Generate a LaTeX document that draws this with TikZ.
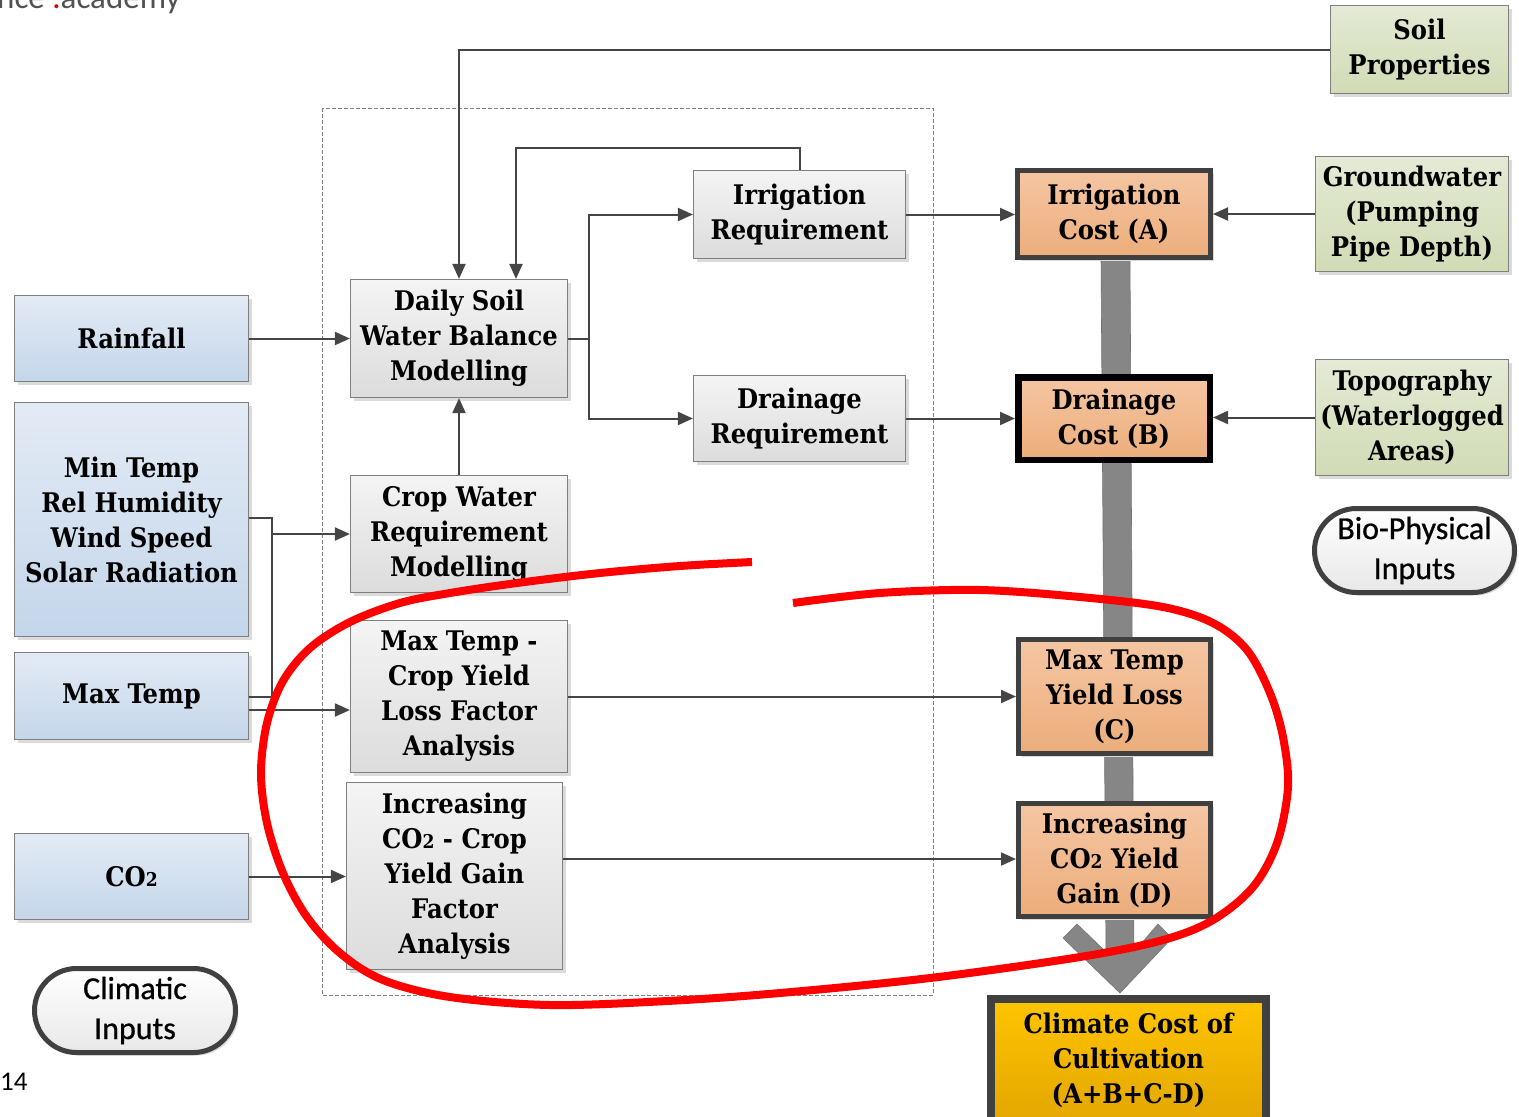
\documentclass[tikz,border=0pt]{standalone}
\usepackage{fontspec}
\newfontfamily\pillfont{Carlito}[FakeBold=0.8]
\newfontfamily\plainfont{Carlito}
\newfontfamily\boxfont{DejaVu Serif Condensed}[BoldFont={DejaVu Serif Condensed Bold}]
\usetikzlibrary{arrows.meta,calc,shadows}

\definecolor{lineC}{HTML}{454545}
\definecolor{frameC}{HTML}{7F7F7F}
\definecolor{blueTop}{HTML}{E3EBF5}
\definecolor{blueBot}{HTML}{C4D6EA}
\definecolor{grayTop}{HTML}{F4F4F4}
\definecolor{grayBot}{HTML}{DCDCDC}
\definecolor{greenTop}{HTML}{E4EAD5}
\definecolor{greenBot}{HTML}{D1DBB5}
\definecolor{orTop}{HTML}{F5C6A3}
\definecolor{orBot}{HTML}{ECAD7B}
\definecolor{goldTop}{HTML}{FFC400}
\definecolor{goldBot}{HTML}{E3A700}
\definecolor{darkB}{HTML}{404040}
\definecolor{shaftC}{HTML}{868686}

\newcommand\cotwo{CO{\fontsize{19}{19}\selectfont 2}}

\tikzset{
  softshadow/.style={drop shadow={shadow xshift=3pt,shadow yshift=-3pt,fill=black!14,opacity=1}},
  basebox/.style={rectangle, align=center, inner sep=1pt, softshadow,
    font=\boxfont\bfseries\fontsize{27}{35}\selectfont},
  inbox/.style={basebox, draw=frameC, line width=1.2pt, top color=blueTop, bottom color=blueBot},
  procbox/.style={basebox, draw=frameC, line width=1.2pt, top color=grayTop, bottom color=grayBot},
  bpbox/.style={basebox, draw=frameC, line width=1.2pt, top color=greenTop, bottom color=greenBot},
  costbox/.style={basebox, draw=darkB, line width=5pt, top color=orTop, bottom color=orBot},
  pill/.style={rectangle, rounded corners=42pt, draw=darkB, line width=5pt, softshadow,
    top color=white, bottom color=black!9, align=center, inner sep=1pt,
    font=\pillfont\fontsize{32}{40}\selectfont},
  conn/.style={draw=lineC, line width=2pt},
  arr/.style={conn, -{Triangle[length=15pt,width=13pt]}},
}

\begin{document}
\begin{tikzpicture}[x=1pt,y=-1pt]
\useasboundingbox (0,0) rectangle (1519,1117);

% header and page number fragments
\node[anchor=base west, inner sep=0, text=black!68, font=\plainfont\fontsize{33}{33}\selectfont]
  (wm) at (-3,8) {nce \textcolor{red!85!black}{.}academy};
\node[anchor=base west, inner sep=0, font=\plainfont\fontsize{27}{27}\selectfont]
  (pg) at (0,1090) {14};

% dashed frame around the modelling steps
\draw[frameC, line width=1pt, dash pattern=on 4pt off 2pt] (322,108) rectangle (933,995);

% climatic inputs
\node[inbox, minimum width=234, minimum height=86] (rain) at (131.5,338.5) {Rainfall};
\node[inbox, minimum width=234, minimum height=234] (minT) at (131.5,519.5)
  {Min Temp\\Rel Humidity\\Wind Speed\\Solar Radiation};
\node[inbox, minimum width=234, minimum height=87] (maxT) at (131.5,696) {Max Temp};
\node[inbox, minimum width=234, minimum height=86] (co2) at (131.5,876.5) {\cotwo};
\node[pill, minimum width=201, minimum height=84] (clim) at (135,1010.5) {Climatic\\Inputs};

% modelling steps
\node[procbox, minimum width=217, minimum height=118] (dsw) at (459,338.5)
  {Daily Soil\\Water Balance\\Modelling};
\node[procbox, minimum width=217, minimum height=117] (cwr) at (459,534)
  {Crop Water\\Requirement\\Modelling};
\node[procbox, minimum width=217, minimum height=152] (mtc) at (459,696.5)
  {Max Temp -\\Crop Yield\\Loss Factor\\Analysis};
\node[procbox, minimum width=216, minimum height=187] (ico) at (454.5,876)
  {Increasing\\\cotwo{} - Crop\\Yield Gain\\Factor\\Analysis};
\node[procbox, minimum width=212, minimum height=88] (irq) at (799.5,214.5)
  {Irrigation\\Requirement};
\node[procbox, minimum width=212, minimum height=86] (drq) at (799.5,418.5)
  {Drainage\\Requirement};

% bio-physical inputs
\node[bpbox, minimum width=178, minimum height=88] (soil) at (1419.5,49.5) {Soil\\Properties};
\node[bpbox, minimum width=193, minimum height=115] (gw) at (1412,214)
  {Groundwater\\(Pumping\\Pipe Depth)};
\node[bpbox, minimum width=193, minimum height=116] (topo) at (1412,417.5)
  {Topography\\(Waterlogged\\Areas)};
\node[pill, minimum width=200, minimum height=84] (bio) at (1414.5,550.5) {Bio-Physical\\Inputs};

% anchors for the summation arrow
\coordinate (tip) at (1120,993);
\coordinate (shaftTop) at (1114,258);

% thick summation arrow behind the cost boxes
\fill[shaftC, draw=black!55, line width=0.6pt]
  ($(shaftTop)+(-13,0)$) -- ($(shaftTop)+(16,0)$) -- ($(tip)+(14,-41)$)
  -- ($(tip)+(38,-69)$) -- ($(tip)+(52,-55)$) -- (tip) -- ($(tip)+(-57,-55)$)
  -- ($(tip)+(-43,-69)$) -- ($(tip)+(-14,-41)$) -- cycle;

% cost components and total
\node[costbox, minimum width=193, minimum height=87] (icost) at (1114,214) {Irrigation\\Cost (A)};
\node[costbox, draw=black, line width=6.5pt, minimum width=191.5, minimum height=82.5] (dcost) at (1114,418.5)
  {Drainage\\Cost (B)};
\node[costbox, minimum width=192, minimum height=114] (ccost) at (1114.5,696.5)
  {Max Temp\\Yield Loss\\(C)};
\node[costbox, minimum width=192, minimum height=113] (dgain) at (1114.5,860)
  {Increasing\\\cotwo{} Yield\\Gain (D)};
\node[costbox, line width=8pt, minimum width=275, minimum height=122,
  top color=goldTop, bottom color=goldBot] (climate) at (1128.5,1060)
  {Climate Cost of\\Cultivation\\(A+B+C-D)};

% connectors
\draw[arr] (soil.west) -| (dsw.north);
\draw[arr] (irq.north) -- ++(0,-22) -| ($(dsw.north)+(57,0)$);
\draw[arr] (rain.east) -- (dsw.west);
\draw[arr] (cwr.north) -- (dsw.south);
\draw[conn] (dsw.east) -- ++(21,0) coordinate (split);
\draw[arr] (split) |- (irq.west);
\draw[arr] (split) |- (drq.west);
\draw[arr] (irq.east) -- (irq.east -| icost.west);
\draw[arr] (drq.east) -- (drq.east -| dcost.west);
\draw[arr] (gw.west) -- (gw.west -| icost.east);
\draw[arr] (topo.west) -- (topo.west -| dcost.east);
\draw[conn] ($(minT.east)+(0,-1.5)$) -| ($(maxT.east)+(23,1)$) coordinate (bus) -- ($(maxT.east)+(0,1)$);
\draw[arr] (cwr.west -| bus) -- (cwr.west);
\draw[arr] ($(maxT.east)+(0,14)$) coordinate (m1) -- (m1 -| mtc.west);
\draw[arr] (mtc.east) -- (mtc.east -| ccost.west);
\draw[arr] (co2.east) -- (co2.east -| ico.west);
\draw[arr] ($(ico.east)+(0,-17)$) coordinate (g1) -- (g1 -| dgain.west);

% hand-drawn red loop
\draw[red, line width=8pt] plot[smooth, tension=0.55] coordinates {
  (752,562) (680,566) (600,573) (517,583) (450,593) (400,603) (350,622) (310,648)
  (283,681) (267,723) (261,773) (267,823) (283,873) (307,917) (340,953) (383,980)
  (450,997) (550,1005) (667,1001) (780,993) (930,978) (1080,957) (1163,940)
  (1213,920) (1253,887) (1277,843) (1288,787) (1283,737) (1270,693) (1247,650)
  (1213,623) (1163,607) (1080,597) (980,590) (880,593) (793,603)};
\end{tikzpicture}
\end{document}
